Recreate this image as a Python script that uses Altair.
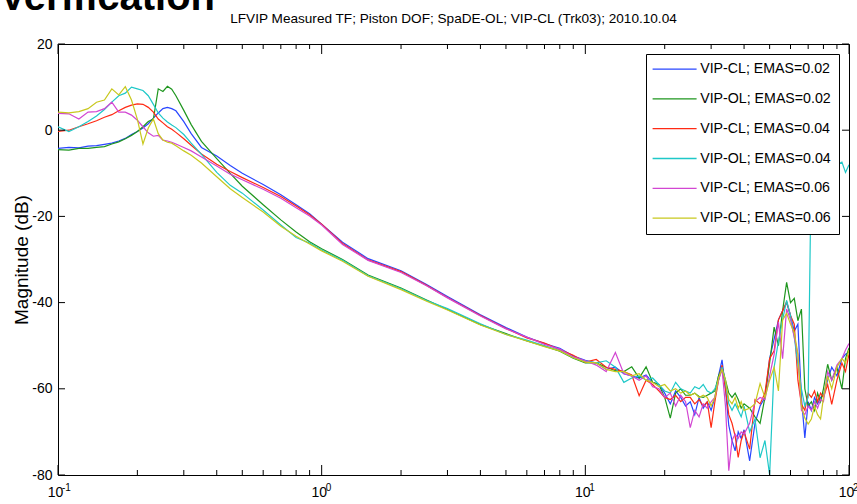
import altair as alt
import pandas as pd

# ---------------- data ----------------
FREQ_LOW = [0.1, 0.11, 0.12, 0.13, 0.14, 0.15, 0.16, 0.17, 0.18, 0.19,
            0.2, 0.21, 0.22, 0.23, 0.24, 0.25, 0.26, 0.27, 0.28, 0.3,
            0.32, 0.35, 0.4, 0.45, 0.5, 0.6, 0.7, 0.8, 0.9, 1.0]
FREQ_MID = [1.2, 1.5, 2, 2.5, 3, 4, 5, 6, 7, 8, 9, 10]
FREQ_HIGH = [11, 12, 13, 14, 15, 16, 17, 18, 19, 20,
             21, 22, 23, 24, 25, 26, 27, 28, 29, 30,
             31, 32, 33, 34, 35, 36, 37, 38, 39, 40,
             42, 44, 46, 48, 50, 52, 54, 56, 58, 60,
             62, 64, 66, 68, 70, 72, 74, 76, 78, 80,
             83, 86, 90, 94, 97, 100]
FREQ = FREQ_LOW + FREQ_MID + FREQ_HIGH

SERIES = ["VIP-CL; EMAS=0.02", "VIP-OL; EMAS=0.02", "VIP-CL; EMAS=0.04",
          "VIP-OL; EMAS=0.04", "VIP-CL; EMAS=0.06", "VIP-OL; EMAS=0.06"]
COLORS = ["#2846ff", "#1e961e", "#ff2a14", "#1ec8c8", "#d246d2", "#c8c81e"]

CL02 = [-4.2, -4.0, -4.1, -3.7, -3.6, -3.3, -3.0, -2.5, -1.9, -1.0,
        -0.3, 0.5, 1.5, 2.8, 4.0, 5.0, 5.3, 5.0, 4.5, 2.0,
        -0.8, -4.0, -6.0, -8.2, -10.0, -12.6, -15.0, -17.3, -19.4, -21.8,
        -26.0, -29.8, -32.6, -35.8, -38.6, -42.8, -45.8, -48.0, -49.5, -50.6, -52.4, -53.4,
        -54.0, -55.5, -55.0, -56.5, -57.0, -57.5, -56.8, -58.5, -59.0, -61.0,
        -63.5, -60.5, -62.0, -64.0, -63.0, -66.0, -62.0, -64.5, -63.0, -65.0,
        -62.0, -57.0, -53.3, -60.0, -68.5, -72.0, -74.4, -70.0, -71.5, -69.5,
        -76.7, -68.0, -64.0, -62.0, -53.0, -48.5, -44.0, -41.9, -40.0, -43.0,
        -46.6, -45.0, -62.0, -71.4, -63.0, -65.0, -62.0, -63.5, -62.0, -61.5,
        -58.0, -55.0, -57.0, -53.0, -52.0, -51.5]
OL02 = [-4.5, -4.6, -4.2, -4.2, -4.0, -3.8, -3.2, -2.7, -2.0, -1.2,
        -0.3, 0.8, 2.0, 2.6, 9.6, 9.0, 10.2, 9.5, 8.0, 4.6,
        1.3, -2.6, -6.6, -10.0, -13.0, -17.3, -20.8, -23.6, -25.9, -27.5,
        -30.0, -33.6, -36.6, -39.4, -41.6, -45.1, -47.2, -48.9, -50.1, -51.3, -52.9, -54.0,
        -54.0, -55.0, -55.8, -56.0, -54.9, -57.5, -54.9, -58.5, -59.0, -62.0,
        -66.8, -61.0, -60.0, -61.5, -61.5, -61.0, -61.8, -62.0, -61.5, -61.0,
        -60.5, -57.0, -55.0, -58.0, -61.0, -62.0, -61.0, -62.5, -64.5, -63.5,
        -64.5, -66.5, -68.0, -62.0, -54.0, -45.7, -50.0, -41.9, -35.3, -40.0,
        -39.0, -44.2, -41.5, -60.0, -64.0, -63.0, -65.0, -61.0, -63.0, -60.0,
        -54.3, -58.0, -55.0, -60.0, -53.0, -50.5]
CL04 = [-0.3, 0.0, 0.8, 1.5, 2.2, 3.0, 3.6, 4.5, 5.3, 5.8,
        6.1, 6.0, 5.3, 4.2, 2.6, 1.7, 0.8, 0.2, -0.5, -2.0,
        -3.5, -5.5, -7.9, -9.6, -11.0, -13.3, -15.4, -17.6, -19.6, -21.8,
        -26.3, -30.1, -32.8, -36.0, -38.8, -43.0, -46.0, -48.2, -49.4, -50.9, -52.2, -53.8,
        -53.2, -55.0, -55.5, -56.0, -56.8, -61.6, -58.0, -59.0, -60.5, -62.0,
        -62.5, -61.5, -63.0, -62.0, -62.0, -63.5, -62.5, -64.0, -63.0, -69.0,
        -63.0, -58.0, -54.5, -60.0, -66.0, -68.0, -71.0, -75.9, -72.0, -70.0,
        -74.0, -62.5, -63.5, -61.0, -53.0, -51.2, -44.0, -41.9, -39.8, -43.0,
        -45.0, -58.0, -63.6, -65.0, -61.0, -62.0, -60.5, -63.0, -61.0, -62.0,
        -59.0, -63.6, -58.0, -54.0, -56.0, -52.0]
OL04 = [0.8, -0.3, 0.8, 2.0, 3.3, 4.8, 6.5, 8.0, 8.6, 10.0,
        9.6, 9.2, 8.0, 6.0, 4.0, 2.8, 1.9, 1.2, 0.6, -1.0,
        -3.0, -5.6, -9.8, -12.8, -14.6, -18.5, -22.0, -24.9, -26.2, -27.8,
        -30.2, -33.8, -36.8, -39.5, -41.4, -44.9, -47.4, -48.7, -50.0, -51.1, -52.7, -53.6,
        -54.0, -53.5, -55.0, -58.5, -57.5, -57.0, -58.0, -57.5, -59.0, -60.5,
        -61.0, -58.5, -60.0, -60.5, -61.0, -59.5, -60.0, -59.0, -60.5, -61.0,
        -60.0, -58.0, -55.0, -58.5, -63.5, -65.0, -63.5, -65.0, -66.5, -64.0,
        -70.0, -67.0, -76.0, -72.0, -80.0, -55.0, -49.0, -44.0, -39.5, -43.0,
        -48.0, -54.3, -60.0, -64.0, -62.0, -6.0, -9.0, -5.0, -8.0, -7.0,
        -10.0, -6.0, -8.0, -7.4, -9.8, -8.0]
CL06 = [3.9, 3.8, 2.6, 4.2, 4.3, 5.0, 6.5, 4.2, 4.2, 3.5,
        2.3, 0.8, -0.6, -1.4, -1.2, -2.3, -2.5, -2.8, -3.2, -4.0,
        -4.8, -6.2, -8.3, -10.2, -11.5, -13.7, -15.8, -18.0, -19.9, -22.0,
        -26.5, -30.2, -33.0, -36.1, -38.9, -43.1, -46.1, -48.0, -49.7, -50.8, -52.6, -53.5,
        -54.5, -56.0, -51.6, -56.5, -57.0, -58.0, -57.0, -59.5, -60.0, -62.0,
        -61.0, -64.0, -61.5, -63.0, -69.0, -65.0, -66.5, -63.5, -64.5, -63.0,
        -62.0, -58.0, -55.5, -64.0, -79.0, -72.0, -70.5, -71.5, -70.0, -70.5,
        -68.0, -63.0, -62.0, -62.5, -57.0, -52.0, -44.5, -53.0, -41.5, -44.0,
        -48.0, -52.0, -65.0, -66.0, -64.0, -65.0, -63.0, -64.5, -62.5, -63.0,
        -56.0, -58.0, -54.5, -53.0, -51.0, -49.5]
OL06 = [4.2, 4.0, 4.3, 5.0, 6.5, 7.0, 9.6, 8.2, 10.1, 7.0,
        2.5, -3.2, 0.5, 2.6, -0.8, -2.3, -2.8, -3.0, -3.6, -4.8,
        -5.8, -7.6, -10.8, -13.6, -15.6, -19.0, -22.3, -24.6, -26.4, -28.0,
        -30.4, -33.9, -37.0, -39.7, -41.7, -45.2, -47.4, -48.9, -50.2, -51.2, -52.8, -53.8,
        -54.0, -55.5, -56.0, -56.0, -57.0, -56.5, -58.0, -58.5, -59.5, -59.0,
        -60.5, -60.0, -61.0, -60.5, -61.5, -61.0, -62.0, -61.5, -62.0, -64.0,
        -62.0, -57.5, -55.5, -58.0, -62.5, -63.5, -62.0, -64.5, -63.0, -65.0,
        -64.5, -63.5, -58.8, -62.0, -58.0, -55.0, -60.5, -44.0, -42.5, -45.0,
        -47.0, -51.9, -64.0, -66.8, -68.2, -67.0, -64.0, -66.0, -67.0, -62.0,
        -57.0, -60.0, -55.0, -53.0, -54.0, -51.0]
VALUES = [CL02, OL02, CL04, OL04, CL06, OL06]

TITLE = "LFVIP Measured TF; Piston DOF; SpaDE-OL; VIP-CL (Trk03); 2010.10.04"
HEADER = "Verification"
Y_TITLE = "Magnitude (dB)"
DECADES = [0.1, 1, 10, 100]
EXPONENTS = ["-1", "0", "1", "2"]
X_MINOR = [0.2, 0.3, 0.4, 0.5, 0.6, 0.7, 0.8, 0.9,
           2, 3, 4, 5, 6, 7, 8, 9,
           20, 30, 40, 50, 60, 70, 80, 90]
Y_TICKS = [-80, -60, -40, -20, 0, 20]

# ---------------- chart ----------------
FONT = "Liberation Sans"
W, H = 791, 431

rows = []
for name, vals in zip(SERIES, VALUES):
    for i, (f, v) in enumerate(zip(FREQ, vals)):
        rows.append({"s": name, "f": f, "db": v, "i": i})
df = pd.DataFrame(rows)

xs = alt.Scale(type="log", domain=[0.1, 100], nice=False)
ys = alt.Scale(domain=[-80, 20], nice=False)

XAXIS = alt.Axis(
    values=DECADES, labelExpr="'10'", ticks=False, domain=False, grid=False,
    labelPadding=10, labelFont=FONT, labelFontSize=14, labelColor="black",
    labelBaseline="top", labelOffset=-3, labelFlush=False, labelOverlap=False,
    title=None)
YAXIS = alt.Axis(
    values=Y_TICKS, labelExpr="'' + datum.value", ticks=False, domain=False,
    grid=False, labelPadding=6, labelFont=FONT, labelFontSize=14,
    labelColor="black", labelFlush=False, labelOverlap=False,
    title=Y_TITLE, titleFont=FONT, titleFontSize=19,
    titleFontWeight="normal", titleColor="black", titlePadding=0)

lines = alt.Chart(df).mark_line(strokeWidth=1.2, clip=True).encode(
    x=alt.X("f:Q", scale=xs, axis=XAXIS),
    y=alt.Y("db:Q", scale=ys, axis=YAXIS),
    color=alt.Color("s:N", scale=alt.Scale(domain=SERIES, range=COLORS),
                    legend=alt.Legend(
                        title=None, orient="top-right", offset=10,
                        fillColor="white", strokeColor="black", padding=8,
                        symbolType="M-4,0H4", symbolSize=121,
                        symbolStrokeWidth=1.3, symbolOffset=13.5,
                        labelFont=FONT, labelFontSize=14.2,
                        labelColor="black", labelOffset=18.5,
                        rowPadding=14.8, labelLimit=0, zindex=1)),
    order="i:Q",
)

minor_df = pd.DataFrame({"v": X_MINOR})
major_df = pd.DataFrame({"v": DECADES, "e": EXPONENTS})
ytick_df = pd.DataFrame({"v": Y_TICKS})


def xrule(data, y1, y2):
    return alt.Chart(data).mark_rule(color="black", strokeWidth=1).encode(
        x=alt.X("v:Q", scale=xs, axis=XAXIS),
        y=alt.value(y1), y2=alt.value(y2))


def yrule(x1, x2):
    return alt.Chart(ytick_df).mark_rule(color="black", strokeWidth=1).encode(
        y=alt.Y("v:Q", scale=ys, axis=YAXIS),
        x=alt.value(x1), x2=alt.value(x2))


ticks = [
    xrule(minor_df, H, H - 5), xrule(minor_df, 0, 5),
    xrule(major_df, H, H - 10), xrule(major_df, 0, 10),
    yrule(0, 7), yrule(W, W - 7),
]

exps = alt.Chart(major_df).mark_text(
    font=FONT, fontSize=10, align="left", baseline="alphabetic", dx=4,
    color="black").encode(
    x=alt.X("v:Q", scale=xs, axis=XAXIS), y=alt.value(H + 16), text="e:N")

header = alt.Chart(pd.DataFrame({"t": [HEADER]})).mark_text(
    font=FONT, fontSize=40, fontWeight="bold", align="right",
    baseline="alphabetic", color="black").encode(
    x=alt.value(157), y=alt.value(-34.5), text="t:N")

title = alt.Chart(pd.DataFrame({"t": [TITLE]})).mark_text(
    font=FONT, fontSize=13.6, align="center", baseline="alphabetic",
    color="black").encode(
    x=alt.value(W / 2), y=alt.value(-21), text="t:N")

chart = alt.layer(lines, *ticks, exps, header, title).properties(
    width=W, height=H,
    autosize=alt.AutoSizeParams(type="none"),
    padding={"left": 58, "top": 44, "right": 8, "bottom": 29},
).configure_view(stroke="black", strokeWidth=1)

chart.save("out.html", embed_options={"renderer": "svg", "actions": False})
